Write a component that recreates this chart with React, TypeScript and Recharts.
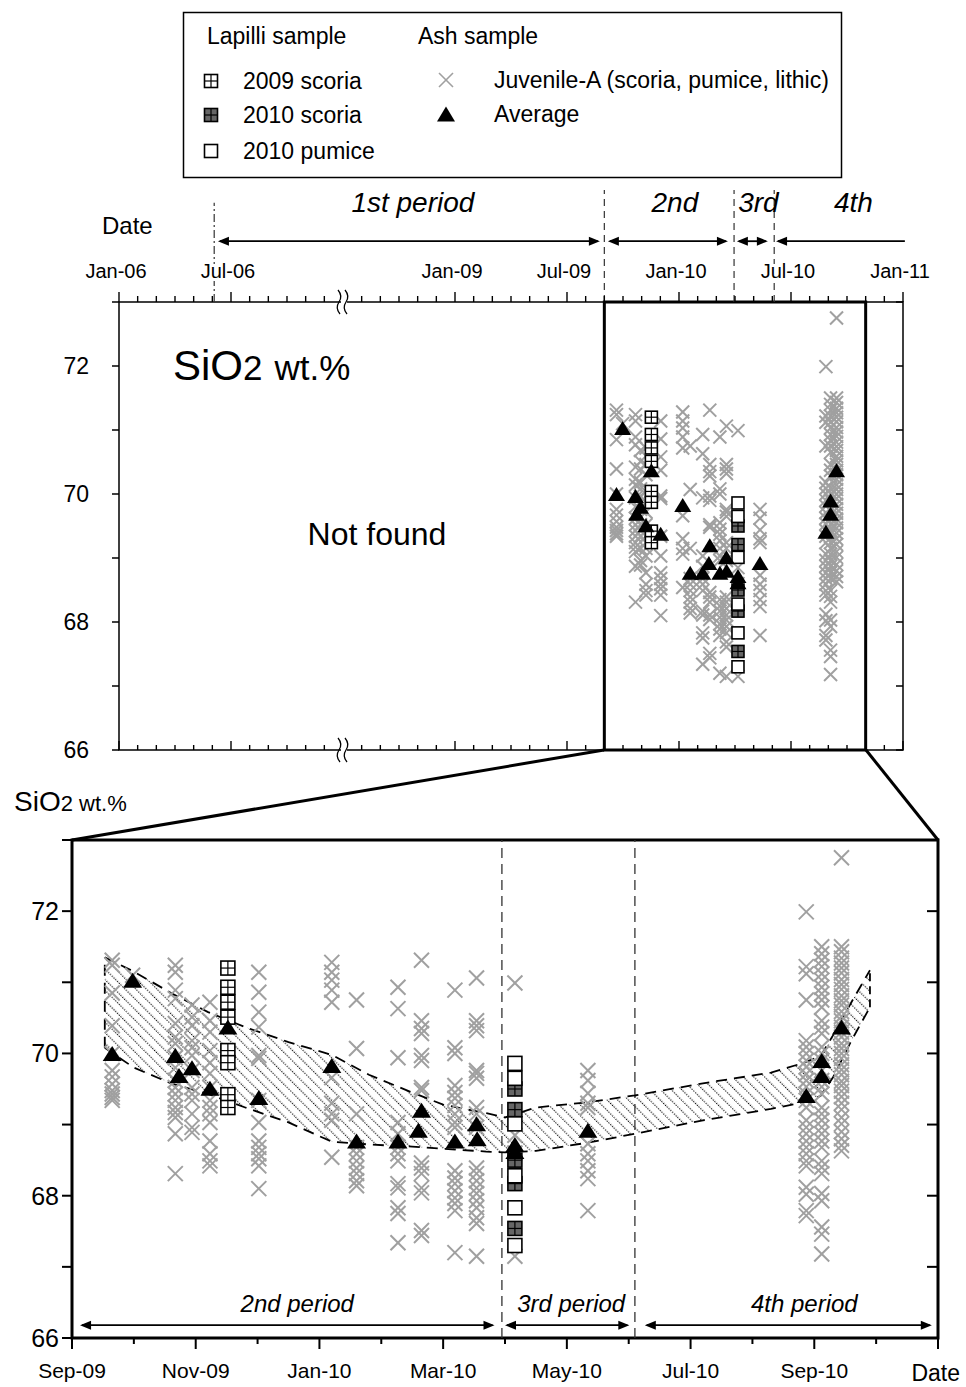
import React from 'react';
import {
  ComposedChart,
  Scatter,
  Line,
  Area,
  XAxis,
  YAxis,
  ReferenceLine,
  ReferenceArea,
} from 'recharts';

const FONT = '"Liberation Sans", Arial, Helvetica, sans-serif';

// ---------------- data (x = months after 1 Sep 2009, y = SiO2 wt.%) ----------------
const JUV_MONTHS = [0.65, 0.98, 1.67, 1.94, 2.23, 3.02, 4.2, 4.6, 5.27, 5.65, 6.19, 6.54, 7.16, 8.34, 11.87, 12.12, 12.44];
const JUV_VALUES: number[][] = [
  [71.31, 71.24, 70.85, 70.39, 70.0, 69.76, 69.67, 69.57, 69.48, 69.43, 69.38, 69.34],
  [71.1],
  [71.24, 71.14, 70.89, 70.77, 70.42, 70.23, 70.14, 69.94, 69.8, 69.62, 69.52, 69.43, 69.34, 69.24, 69.17, 69.1, 68.87, 68.31],
  [70.68, 70.51, 70.39, 70.18, 70.08, 69.97, 69.76, 69.52, 69.43, 69.34, 69.15, 68.96, 68.89],
  [70.72, 70.46, 70.3, 70.04, 69.87, 69.72, 69.52, 69.34, 69.24, 69.15, 69.03, 68.77, 68.59, 68.49, 68.42],
  [71.14, 70.86, 70.58, 70.37, 69.97, 69.93, 69.34, 69.03, 68.77, 68.68, 68.59, 68.52, 68.42, 68.1],
  [71.28, 71.14, 71.03, 70.89, 70.72, 69.66, 69.3, 69.15, 69.06, 68.54],
  [70.75, 70.07, 69.15, 68.68, 68.59, 68.49, 68.39, 68.31, 68.21, 68.14],
  [70.93, 70.63, 69.94, 69.03, 68.87, 68.68, 68.59, 68.49, 68.17, 68.11, 67.83, 67.75, 67.34],
  [71.31, 70.46, 70.35, 70.28, 69.97, 69.9, 69.52, 69.48, 68.46, 68.39, 68.31, 68.11, 68.04, 67.51, 67.44],
  [70.89, 70.08, 70.0, 69.55, 69.45, 69.37, 69.27, 69.15, 69.03, 68.96, 68.35, 68.25, 68.17, 68.07, 67.97, 67.89, 67.79, 67.2],
  [71.06, 70.46, 70.39, 70.32, 69.76, 69.72, 69.65, 69.24, 69.15, 68.96, 68.39, 68.31, 68.21, 68.11, 68.03, 67.93, 67.83, 67.69, 67.61, 67.15],
  [70.99, 68.85, 68.6, 67.15],
  [69.76, 69.62, 69.44, 69.3, 69.24, 68.73, 68.59, 68.49, 68.35, 68.24, 67.79],
  [71.99, 71.22, 71.12, 70.75, 70.18, 70.09, 70.0, 69.9, 69.81, 69.71, 69.62, 69.53, 69.43, 69.34, 69.24, 69.06, 68.96, 68.87, 68.77, 68.68, 68.59, 68.49, 68.42, 68.12, 68.02, 67.79, 67.72],
  [71.5, 71.4, 71.31, 71.22, 71.12, 71.03, 70.93, 70.84, 70.75, 70.65, 70.46, 70.37, 70.28, 70.09, 70.0, 69.9, 69.76, 69.62, 69.53, 69.43, 69.24, 69.15, 69.06, 68.96, 68.87, 68.77, 68.68, 68.49, 68.4, 68.31, 68.03, 67.93, 67.56, 67.46, 67.18],
  [72.75, 71.5, 71.43, 71.34, 71.27, 71.2, 71.13, 71.04, 70.97, 70.9, 70.81, 70.74, 70.68, 70.59, 70.52, 70.46, 70.37, 70.3, 70.23, 70.14, 70.07, 70.0, 69.93, 69.84, 69.77, 69.7, 69.61, 69.55, 69.47, 69.39, 69.3, 69.21, 69.1, 69.01, 68.9, 68.8, 68.71, 68.63],
];

const AVG_MONTHS = [0.65, 0.98, 1.67, 1.73, 1.94, 2.23, 2.52, 3.02, 4.2, 4.6, 5.27, 5.65, 5.6, 6.19, 6.54, 6.55, 7.16, 7.16, 8.34, 11.87, 12.12, 12.12, 12.44];
const AVG_VALUES = [70.0, 71.03, 69.97, 69.69, 69.8, 69.51, 70.37, 69.38, 69.83, 68.77, 68.77, 69.2, 68.92, 68.77, 69.01, 68.8, 68.72, 68.62, 68.92, 69.41, 69.69, 69.9, 70.37];

const SCORIA09_MONTH = 2.52;
const SCORIA09_VALUES = [71.2, 70.93, 70.72, 70.51, 70.04, 69.87, 69.42, 69.24];
const SCORIA10_MONTH = 7.16;
const SCORIA10_VALUES = [69.5, 69.21, 68.5, 68.17, 67.54];
const PUMICE10_MONTH = 7.16;
const PUMICE10_VALUES = [69.86, 69.65, 69.01, 68.28, 67.83, 67.3];

// hatched trend band (read at these months)
const BAND_MONTHS = [0.53, 1.0, 1.6, 2.2, 2.8, 3.5, 4.2, 4.8, 5.5, 6.0, 6.7, 7.0, 7.5, 8.3, 9.1, 10.2, 11.3, 11.8, 12.1, 12.3, 12.6, 12.9];
const BAND_LOW = [70.08, 69.8, 69.58, 69.43, 69.24, 69.03, 68.76, 68.72, 68.69, 68.66, 68.62, 68.61, 68.63, 68.74, 68.87, 69.06, 69.22, 69.31, 69.4, 69.66, 70.18, 70.65];
const BAND_HIGH = [71.35, 71.15, 70.85, 70.58, 70.37, 70.16, 69.98, 69.7, 69.45, 69.28, 69.16, 69.1, 69.24, 69.31, 69.41, 69.58, 69.73, 69.86, 69.96, 70.25, 70.72, 71.17];

// period boundaries (months after Sep-09)
const PERIOD_BOUNDS = [6.95, 9.1];
const PERIOD_NAMES_BOTTOM = ['2nd period', '3rd period', '4th period'];
const PERIOD_ARROWS_BOTTOM: [number, number][] = [[0.13, 6.83], [7.0, 9.01], [9.26, 13.9]];
const PERIOD_LABEL_DX_BOTTOM = [10, 4, 16];

// top (overview) axis: months from Jan-06, with 18 months (Jan-07..Jun-08) cut out
const SEP09_AXIS = 26;
const FIRST_PERIOD_LINE = 5.1;
const BREAK_AXIS = 12;
const TOP_LABEL_AXIS = [0, 6, 18, 24, 30, 36, 42];
const TOP_LABELS = ['Jan-06', 'Jul-06', 'Jan-09', 'Jul-09', 'Jan-10', 'Jul-10', 'Jan-11'];
const TOP_PERIOD_NAMES = ['1st period', '2nd', '3rd', '4th'];
const TOP_PERIOD_ARROWS: [number, number][] = [[5.3, 25.76], [26.19, 32.62], [33.1, 34.76], [35.2, 42.1]];
const TOP_LABEL_DX = [4, 7, 6, 13];

const BOTTOM_LABEL_MONTHS = [0, 2, 4, 6, 8, 10, 12];
const BOTTOM_LABELS = ['Sep-09', 'Nov-09', 'Jan-10', 'Mar-10', 'May-10', 'Jul-10', 'Sep-10'];
const Y_TICKS = [66, 67, 68, 69, 70, 71, 72, 73];
const Y_LABELS = [66, 68, 70, 72];

// ---------------- layout ----------------
const TOP_MARGIN = { top: 92, right: 63, bottom: 30, left: 59 };
const TOP_W = 966, TOP_H = 600, TOP_XAXIS_H = 30, TOP_YAXIS_W = 60;
const TOP_PLOT_W = TOP_W - TOP_MARGIN.left - TOP_YAXIS_W - TOP_MARGIN.right;
const TOP_PLOT_H = TOP_H - TOP_MARGIN.top - TOP_XAXIS_H - TOP_MARGIN.bottom;
const BOT_MARGIN = { top: 60, right: 28, bottom: 9, left: 12 };
const BOT_W = 966, BOT_H = 607, BOT_XAXIS_H = 40, BOT_YAXIS_W = 60;
const BOT_PLOT_W = BOT_W - BOT_MARGIN.left - BOT_YAXIS_W - BOT_MARGIN.right;

// ---------------- derived tables ----------------
type Pt = { x: number; y: number };
const juvRows: Pt[] = JUV_MONTHS.flatMap((m, i) => JUV_VALUES[i].map((v) => ({ x: m, y: v })));
const avgRows: Pt[] = AVG_MONTHS.map((m, i) => ({ x: m, y: AVG_VALUES[i] }));
const sc09Rows: Pt[] = SCORIA09_VALUES.map((v) => ({ x: SCORIA09_MONTH, y: v }));
const sc10Rows: Pt[] = SCORIA10_VALUES.map((v) => ({ x: SCORIA10_MONTH, y: v }));
const pu10Rows: Pt[] = PUMICE10_VALUES.map((v) => ({ x: PUMICE10_MONTH, y: v }));
const bandRows = BAND_MONTHS.map((m, i) => ({ x: m, r: [BAND_LOW[i], BAND_HIGH[i]], lo: BAND_LOW[i], hi: BAND_HIGH[i] }));
const toTop = (rows: Pt[]) => rows.map((r) => ({ x: r.x + SEP09_AXIS, y: r.y }));

const TOP_TICKS = Array.from({ length: 43 }, (_, i) => i);
const BOTTOM_TICKS = Array.from({ length: 15 }, (_, i) => i);

// ---------------- marker shapes ----------------
const GrayX = ({ cx, cy, s, w = 1.9 }: { cx: number; cy: number; s: number; w?: number }) => {
  const h = s / 2;
  return (
    <g stroke="#a0a0a0" strokeWidth={w} fill="none">
      <line x1={cx - h} y1={cy - h} x2={cx + h} y2={cy + h} />
      <line x1={cx - h} y1={cy + h} x2={cx + h} y2={cy - h} />
    </g>
  );
};
const Tri = ({ cx, cy, w, h }: { cx: number; cy: number; w: number; h: number }) => (
  <polygon points={`${cx},${cy - h / 2} ${cx + w / 2},${cy + h / 2} ${cx - w / 2},${cy + h / 2}`} fill="#000" />
);
const Sq = ({ cx, cy, s, kind }: { cx: number; cy: number; s: number; kind: 's09' | 's10' | 'p10' }) => {
  const h = s / 2;
  return (
    <g>
      <rect x={cx - h} y={cy - h} width={s} height={s} fill={kind === 's10' ? '#666' : '#fff'} stroke="#000" strokeWidth={1.6} />
      {kind !== 'p10' && (
        <g stroke="#000" strokeWidth={1.2}>
          <line x1={cx} y1={cy - h} x2={cx} y2={cy + h} />
          <line x1={cx - h} y1={cy} x2={cx + h} y2={cy} />
        </g>
      )}
    </g>
  );
};

const BreakMark = ({ x, y }: { x: number; y: number }) => {
  const curve = (dx: number) => `M${x + dx - 2},${y - 12} q5,6 1,12 q-4,6 1,12`;
  return (
    <g>
      <rect x={x - 2} y={y - 3} width={6} height={6} fill="#fff" />
      <path d={curve(-3)} fill="none" stroke="#000" strokeWidth={1.3} />
      <path d={curve(4)} fill="none" stroke="#000" strokeWidth={1.3} />
    </g>
  );
};

// ---------------- ticks ----------------
const TopAxisTick = (props: any) => {
  const { x, y, payload } = props;
  const v = payload.value;
  const yb = y + TOP_PLOT_H;
  if (v === BREAK_AXIS)
    return (
      <g>
        <BreakMark x={x} y={y} />
        <BreakMark x={x} y={yb} />
      </g>
    );
  const li = TOP_LABEL_AXIS.indexOf(v);
  const major = v % 6 === 0;
  return (
    <g>
      <line x1={x} y1={y} x2={x} y2={y - (major ? 10 : 6)} stroke="#000" strokeWidth={1.4} />
      <line x1={x} y1={yb} x2={x} y2={yb - (major ? 9 : 5)} stroke="#000" strokeWidth={1.4} />
      {li >= 0 && (
        <text x={x - 3} y={y - 24} textAnchor="middle" fontSize={20} fontFamily={FONT} fill="#000" stroke="#fff" strokeWidth={6} paintOrder="stroke">
          {TOP_LABELS[li]}
        </text>
      )}
    </g>
  );
};
const BottomAxisTick = (props: any) => {
  const { x, y, payload } = props;
  const v = payload.value;
  const li = BOTTOM_LABEL_MONTHS.indexOf(v);
  const major = v % 2 === 0;
  return (
    <g>
      <line x1={x} y1={y} x2={x} y2={y + (major ? 11 : 6)} stroke="#000" strokeWidth={2} />
      {li >= 0 && (
        <text x={x} y={y + 40} textAnchor="middle" fontSize={21} fontFamily={FONT} fill="#000">
          {BOTTOM_LABELS[li]}
        </text>
      )}
    </g>
  );
};
const makeYTick = (fontSize: number, outLen: number, gap: number, inLen: number, plotW: number, sw: number) => (p: any) => {
  const v = p.payload.value;
  const x = p.x, y = p.y;
  return (
    <g>
      <line x1={x} y1={y} x2={x - outLen} y2={y} stroke="#000" strokeWidth={sw} />
      <line x1={x + plotW} y1={y} x2={x + plotW - inLen} y2={y} stroke="#000" strokeWidth={sw} />
      {Y_LABELS.includes(v) && (
        <text x={x - outLen - gap} y={y} dy={fontSize * 0.36} textAnchor="end" fontSize={fontSize} fontFamily={FONT} fill="#000">
          {v}
        </text>
      )}
    </g>
  );
};

// ---------------- arrows (drawn through ReferenceLine segments) ----------------
const makeArrow = (label: string, fontSize: number, labelDy: number, labelDx: number, both: boolean) => (p: any) => {
  const x1 = Number(p.x1), y1 = Number(p.y1), x2 = Number(p.x2), y2 = Number(p.y2);
  const L = 11, W = 4.5;
  return (
    <g>
      <line x1={x1 + 2} y1={y1} x2={both ? x2 - 2 : x2} y2={y2} stroke="#000" strokeWidth={1.8} />
      <polygon points={`${x1},${y1} ${x1 + L},${y1 - W} ${x1 + L},${y1 + W}`} fill="#000" />
      {both && <polygon points={`${x2},${y2} ${x2 - L},${y2 - W} ${x2 - L},${y2 + W}`} fill="#000" />}
      <text x={(x1 + x2) / 2 + labelDx} y={y1 + labelDy} textAnchor="middle" fontStyle="italic" fontSize={fontSize} fontFamily={FONT} fill="#000">
        {label}
      </text>
    </g>
  );
};

const sqShape = (kind: 's09' | 's10' | 'p10', s: number) => (p: any) => <Sq cx={p.cx} cy={p.cy} s={s} kind={kind} />;
const xShape = (s: number, w: number) => (p: any) => <GrayX cx={p.cx} cy={p.cy} s={s} w={w} />;
const triShape = (w: number, h: number) => (p: any) => <Tri cx={p.cx} cy={p.cy} w={w} h={h} />;

const TopChart = () => (
  <ComposedChart width={TOP_W} height={TOP_H} margin={TOP_MARGIN}>
    <ReferenceArea x1={0} x2={42} y1={66} y2={73} fill="none" stroke="#000" strokeWidth={1.5} ifOverflow="visible" />
    {[FIRST_PERIOD_LINE, SEP09_AXIS, SEP09_AXIS + PERIOD_BOUNDS[0], SEP09_AXIS + PERIOD_BOUNDS[1]].map((a, i) => (
      <ReferenceLine
        key={'vl' + i}
        segment={[{ x: a, y: 73 }, { x: a, y: i === 0 ? 74.55 : 74.75 }]}
        ifOverflow="visible"
        stroke="#333"
        strokeWidth={1.2}
        strokeDasharray={i === 0 ? '8 3 2 3' : '7 5'}
      />
    ))}
    {TOP_PERIOD_ARROWS.map((a, i) => (
      <ReferenceLine
        key={'ta' + i}
        segment={[{ x: a[0], y: 73.95 }, { x: a[1], y: 73.95 }]}
        ifOverflow="visible"
        stroke="#000"
        shape={makeArrow(TOP_PERIOD_NAMES[i], 28, -29, TOP_LABEL_DX[i], i !== 3)}
      />
    ))}
    <Scatter data={toTop(juvRows)} shape={xShape(13, 2)} isAnimationActive={false} />
    <Scatter data={toTop(sc09Rows)} shape={sqShape('s09', 12)} isAnimationActive={false} />
    <Scatter data={toTop(sc10Rows)} shape={sqShape('s10', 12)} isAnimationActive={false} />
    <Scatter data={toTop(pu10Rows)} shape={sqShape('p10', 12)} isAnimationActive={false} />
    <Scatter data={toTop(avgRows)} shape={triShape(17, 14)} isAnimationActive={false} />
    <ReferenceArea x1={SEP09_AXIS} x2={SEP09_AXIS + 14} y1={66} y2={73} fill="none" stroke="#000" strokeWidth={3} ifOverflow="visible" />
    <XAxis
      dataKey="x"
      type="number"
      orientation="top"
      domain={[0, 42]}
      allowDataOverflow
      ticks={TOP_TICKS}
      interval={0}
      height={TOP_XAXIS_H}
      tickSize={0}
      tickMargin={0}
      axisLine={false}
      tickLine={false}
      tick={TopAxisTick}
    />
    <YAxis
      dataKey="y"
      type="number"
      domain={[66, 73]}
      allowDataOverflow
      ticks={Y_TICKS}
      interval={0}
      width={TOP_YAXIS_W}
      tickSize={0}
      tickMargin={0}
      axisLine={false}
      tickLine={false}
      tick={makeYTick(23, 7, 23, 7, TOP_PLOT_W, 1.5)}
    />
  </ComposedChart>
);

const BottomChart = () => (
  <ComposedChart width={BOT_W} height={BOT_H} margin={BOT_MARGIN}>
    <defs>
      <pattern id="hatch" patternUnits="userSpaceOnUse" width={7.5} height={7.5} patternTransform="rotate(-45)">
        <line x1={0.6} y1={0} x2={0.6} y2={7.5} stroke="#000" strokeWidth={1.15} strokeDasharray="1.2 1.3" />
      </pattern>
    </defs>
    <Area data={bandRows} dataKey="r" type="linear" fill="url(#hatch)" fillOpacity={1} stroke="none" dot={false} activeDot={false} isAnimationActive={false} />
    {PERIOD_BOUNDS.map((b, i) => (
      <ReferenceLine key={'pb' + i} x={b} stroke="#333" strokeWidth={1.3} strokeDasharray="10 6" />
    ))}
    {PERIOD_ARROWS_BOTTOM.map((a, i) => (
      <ReferenceLine
        key={'ba' + i}
        segment={[{ x: a[0], y: 66.18 }, { x: a[1], y: 66.18 }]}
        ifOverflow="visible"
        stroke="#000"
        shape={makeArrow(PERIOD_NAMES_BOTTOM[i], 24, -13, PERIOD_LABEL_DX_BOTTOM[i], true)}
      />
    ))}
    <Scatter data={juvRows} shape={xShape(15, 2)} isAnimationActive={false} />
    <Line data={bandRows} dataKey="hi" type="linear" stroke="#000" strokeWidth={1.8} strokeDasharray="11 7" dot={false} activeDot={false} isAnimationActive={false} />
    <Line data={bandRows} dataKey="lo" type="linear" stroke="#000" strokeWidth={1.8} strokeDasharray="11 7" dot={false} activeDot={false} isAnimationActive={false} />
    <ReferenceLine segment={[{ x: BAND_MONTHS[0], y: BAND_LOW[0] }, { x: BAND_MONTHS[0], y: BAND_HIGH[0] }]} stroke="#000" strokeWidth={1.8} strokeDasharray="11 7" />
    <ReferenceLine
      segment={[{ x: BAND_MONTHS[BAND_MONTHS.length - 1], y: BAND_LOW[BAND_LOW.length - 1] }, { x: BAND_MONTHS[BAND_MONTHS.length - 1], y: BAND_HIGH[BAND_HIGH.length - 1] }]}
      stroke="#000"
      strokeWidth={1.8}
      strokeDasharray="8 5"
    />
    <Scatter data={sc09Rows} shape={sqShape('s09', 14)} isAnimationActive={false} />
    <Scatter data={sc10Rows} shape={sqShape('s10', 14)} isAnimationActive={false} />
    <Scatter data={pu10Rows} shape={sqShape('p10', 14)} isAnimationActive={false} />
    <Scatter data={avgRows} shape={triShape(19, 15)} isAnimationActive={false} />
    <ReferenceArea x1={0} x2={14} y1={66} y2={73} fill="none" stroke="#000" strokeWidth={3} ifOverflow="visible" />
    <XAxis
      dataKey="x"
      type="number"
      domain={[0, 14]}
      allowDataOverflow
      ticks={BOTTOM_TICKS}
      interval={0}
      height={BOT_XAXIS_H}
      tickSize={0}
      tickMargin={0}
      axisLine={false}
      tickLine={false}
      tick={BottomAxisTick}
    />
    <YAxis
      dataKey="y"
      type="number"
      domain={[66, 73]}
      allowDataOverflow
      ticks={Y_TICKS}
      interval={0}
      width={BOT_YAXIS_W}
      tickSize={0}
      tickMargin={0}
      axisLine={false}
      tickLine={false}
      tick={makeYTick(25, 10, 3, 11, BOT_PLOT_W, 2)}
    />
  </ComposedChart>
);

const Overlay = () => (
  <svg width={966} height={1387} style={{ position: 'absolute', left: 0, top: 0 }} fontFamily={FONT}>
    {/* legend */}
    <rect x={183.5} y={12.5} width={658} height={165} fill="#fff" stroke="#000" strokeWidth={1.5} />
    <text x={207} y={44} fontSize={23}>Lapilli sample</text>
    <text x={418} y={44} fontSize={23}>Ash sample</text>
    <Sq cx={211} cy={81} s={13} kind="s09" />
    <Sq cx={211} cy={115} s={13} kind="s10" />
    <Sq cx={211} cy={151} s={13} kind="p10" />
    <text x={243} y={89} fontSize={23}>2009 scoria</text>
    <text x={243} y={123} fontSize={23}>2010 scoria</text>
    <text x={243} y={159} fontSize={23}>2010 pumice</text>
    <GrayX cx={446} cy={80} s={14} w={1.6} />
    <Tri cx={446} cy={114} w={18} h={15} />
    <text x={494} y={88} fontSize={23}>Juvenile-A (scoria, pumice, lithic)</text>
    <text x={494} y={122} fontSize={23}>Average</text>

    <text x={102} y={234} fontSize={24}>Date</text>
    <text x={173} y={380}>
      <tspan fontSize={42}>SiO</tspan>
      <tspan fontSize={35}>2</tspan>
      <tspan fontSize={35} dx={12}>wt.%</tspan>
    </text>
    <text x={377} y={545} fontSize={32} textAnchor="middle">Not found</text>

    {/* zoom connectors */}
    <line x1={604} y1={750} x2={72} y2={840} stroke="#000" strokeWidth={3} />
    <line x1={866} y1={750} x2={938} y2={840} stroke="#000" strokeWidth={3} />

    <text x={14} y={811}>
      <tspan fontSize={28}>SiO</tspan>
      <tspan fontSize={22}>2 wt.%</tspan>
    </text>
    <text x={960} y={1381} fontSize={23} textAnchor="end">Date</text>
  </svg>
);

export default function App() {
  return (
    <div style={{ position: 'absolute', left: 0, top: 0, width: 966, height: 1387, background: '#fff', fontFamily: FONT, overflow: 'hidden' }}>
      <Overlay />
      <div style={{ position: 'absolute', left: 0, top: 180 }}>
        <TopChart />
      </div>
      <div style={{ position: 'absolute', left: 0, top: 780 }}>
        <BottomChart />
      </div>
    </div>
  );
}
